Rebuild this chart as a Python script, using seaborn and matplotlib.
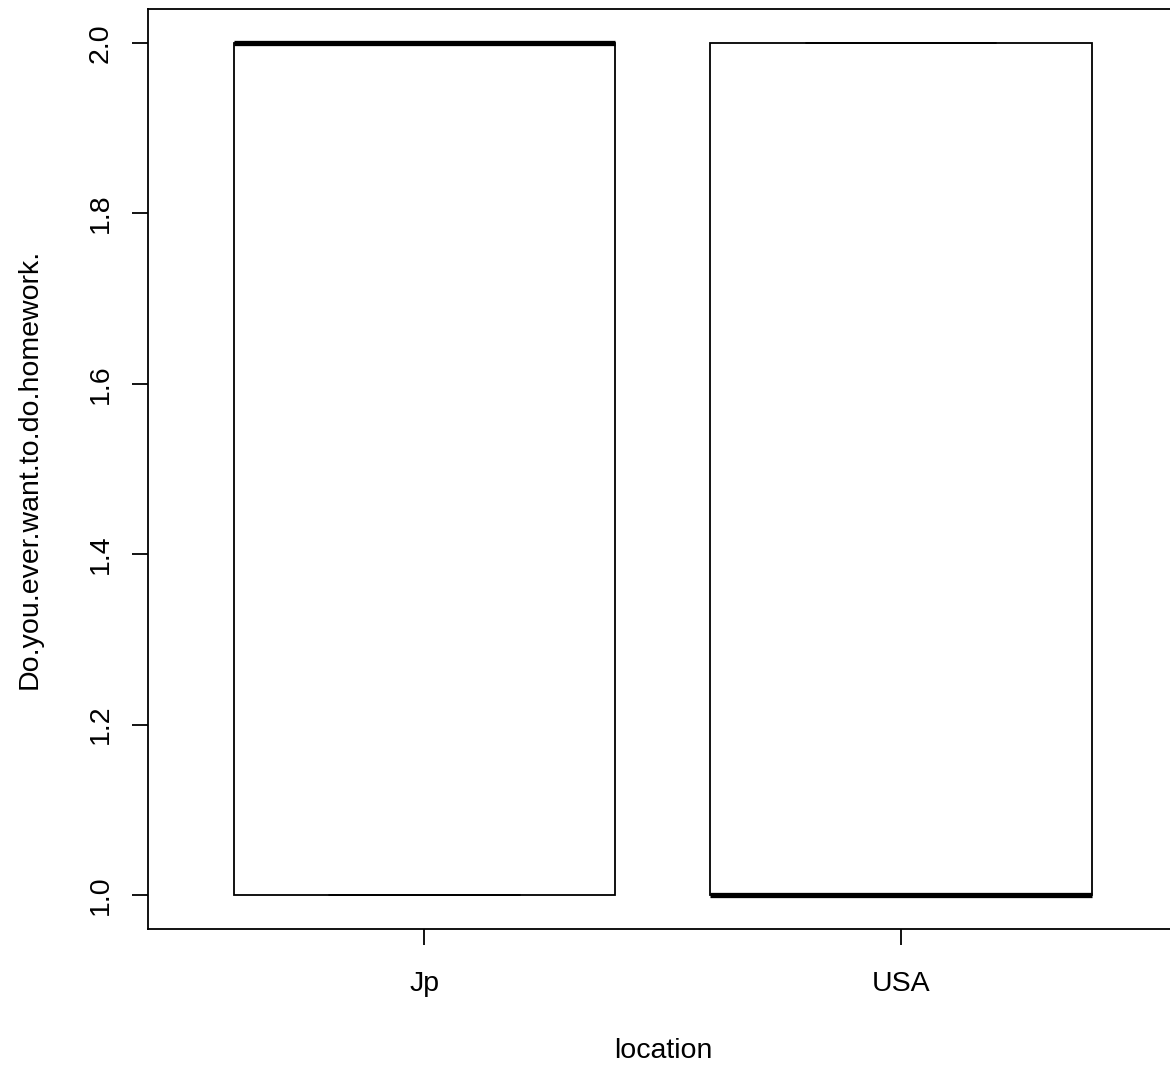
import matplotlib
matplotlib.use("Agg")
import matplotlib.pyplot as plt
import seaborn as sns
import pandas as pd

# Survey responses (1 = yes, 2 = no) by location
locations = ["Jp", "USA"]
jp_answers = [1, 1, 2, 2, 2]
usa_answers = [1, 1, 1, 2, 2]
y_ticks = [1.0, 1.2, 1.4, 1.6, 1.8, 2.0]
y_tick_labels = ["1.0", "1.2", "1.4", "1.6", "1.8", "2.0"]

df = pd.DataFrame({
    "location": ["Jp"] * len(jp_answers) + ["USA"] * len(usa_answers),
    "Do.you.ever.want.to.do.homework.": jp_answers + usa_answers,
})

sns.set_style("ticks")
plt.rcParams["font.family"] = ["Liberation Sans", "DejaVu Sans"]

W, H = 1170, 1075
fig = plt.figure(figsize=(W / 100, H / 100), dpi=100)
ax = fig.add_axes([148 / W, 1 - 929 / H, (1177.5 - 148) / W, (929 - 9) / H])

lw = 1.3
sns.boxplot(
    data=df, x="location", y="Do.you.ever.want.to.do.homework.",
    order=locations, ax=ax, width=0.8, color="white", linecolor="black",
    linewidth=lw, fliersize=0,
    boxprops={"facecolor": "white", "edgecolor": "black", "linewidth": lw},
    medianprops={"color": "black", "linewidth": 3.8, "solid_capstyle": "butt"},
    whiskerprops={"color": "black", "linewidth": lw},
    capprops={"color": "black", "linewidth": lw},
)

ax.set_xlim(-0.58, 1.58)
ax.set_ylim(0.96, 2.04)
ax.set_yticks(y_ticks, labels=y_tick_labels, rotation=90, va="center")

for side in ["left", "right", "top", "bottom"]:
    ax.spines[side].set_visible(True)
    ax.spines[side].set_linewidth(lw)
    ax.spines[side].set_color("black")

fs = 20.5
ax.tick_params(axis="both", direction="out", length=11.5, width=lw,
               color="black", labelsize=fs, labelcolor="black")
ax.tick_params(axis="y", pad=13)
ax.tick_params(axis="x", pad=19)

ax.set_xlabel("location", fontsize=fs, color="black")
ax.set_ylabel("Do.you.ever.want.to.do.homework.", fontsize=fs, color="black")
ax.xaxis.set_label_coords(663 / W, 1 - 1038 / H, transform=fig.transFigure)
ax.yaxis.set_label_coords(43 / W, 1 - 469 / H, transform=fig.transFigure)

fig.savefig("out.png", dpi=100, facecolor="white")
